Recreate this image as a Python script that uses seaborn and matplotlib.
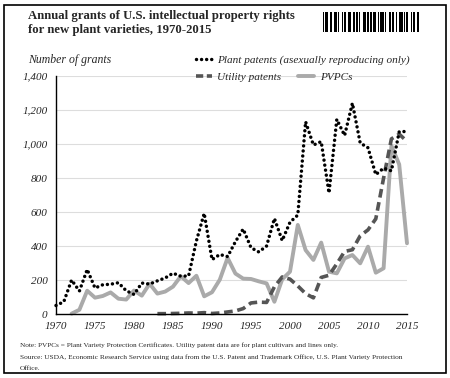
import numpy as np
import pandas as pd
import seaborn as sns
import matplotlib.pyplot as plt
from matplotlib.lines import Line2D
from matplotlib.patches import Rectangle

# data
years = list(range(1970, 2016))

plant_patents = [50, 72, 200, 135, 262, 153, 172, 175, 184, 137,
                 115, 182, 176, 195, 212, 240, 222, 224, 430, 592,
                 320, 350, 338, 425, 500, 390, 365, 400, 562, 432,
                 540, 582, 1131, 994, 1014, 712, 1145, 1050, 1240, 1006,
                 978, 820, 858, 842, 1072, 1074]

utility_patents = [np.nan] * 13 + [2, 2, 3, 4, 6, 5, 8,
                   3, 6, 12, 18, 32, 65, 70, 68, 160, 218,
                   205, 165, 120, 95, 215, 228, 295, 368, 378, 460,
                   495, 560, 800, 1030, 1058, 1015]

pvpcs = [np.nan, np.nan, 2, 25, 137, 96, 106, 127, 90, 85,
         138, 108, 178, 120, 132, 161, 222, 182, 225, 104,
         128, 202, 330, 238, 208, 206, 192, 180, 72, 204,
         249, 524, 376, 318, 420, 249, 239, 327, 347, 298,
         396, 243, 269, 990, 880, 416]

xticks = list(range(1970, 2016, 5))
yticks = list(range(0, 1401, 200))

df = pd.DataFrame({"year": years, "plant": plant_patents,
                   "utility": utility_patents, "pvpc": pvpcs})

sns.set_style("white")
plt.rcParams["font.family"] = ["Liberation Serif", "DejaVu Serif"]

fig = plt.figure(figsize=(4.5, 3.78), dpi=100)
ax = fig.add_axes([56 / 450, 1 - 314 / 378, (407 - 56) / 450, (314 - 76) / 378])

c_plant = "black"
c_util = "#555555"
c_pvpc = "#aaaaaa"

sns.lineplot(data=df, x="year", y="pvpc", ax=ax, color=c_pvpc, linewidth=2.8, clip_on=False)
sns.lineplot(data=df, x="year", y="utility", ax=ax, color=c_util, linewidth=2.6,
             linestyle=(0, (2.4, 1.3)), clip_on=False)
sns.lineplot(data=df, x="year", y="plant", ax=ax, color=c_plant, linewidth=2.5,
             linestyle=(0, (0.01, 1.45)), dash_capstyle="round", clip_on=False)

ax.set_xlim(1970, 2015)
ax.set_ylim(0, 1400)
ax.set_xticks(xticks)
ax.set_yticks(yticks)
ax.set_xticklabels([str(t) for t in xticks], style="italic", fontsize=8)
ax.set_yticklabels([f"{t:,}" for t in yticks], style="italic", fontsize=8)
ax.set_xlabel("")
ax.set_ylabel("")
ax.grid(axis="y", color="#dddddd", linewidth=0.8)
ax.set_axisbelow(True)
for s in ["top", "right"]:
    ax.spines[s].set_visible(False)
for s in ["left", "bottom"]:
    ax.spines[s].set_color("black")
    ax.spines[s].set_linewidth(1.0)
ax.tick_params(axis="both", direction="out", length=3, width=0.8, color="black", pad=3)

# title and labels
fig.text(28 / 450, 1 - 10 / 378, "Annual grants of U.S. intellectual property rights\nfor new plant varieties, 1970-2015",
         fontsize=9.2, fontweight="bold", va="top", ha="left", linespacing=1.2)
fig.text(28 / 450, 1 - 60 / 378, "Number of grants", fontsize=8.5, style="italic",
         va="center", ha="left")

# legend in two rows
h_plant = Line2D([], [], color=c_plant, linewidth=2.5, linestyle=(0, (0.01, 1.45)),
                 dash_capstyle="round")
h_util = Line2D([], [], color=c_util, linewidth=2.6, linestyle=(0, (2.0, 1.0)))
h_pvpc = Line2D([], [], color=c_pvpc, linewidth=2.8)
leg_kw = dict(frameon=False, handlelength=1.4, handletextpad=0.5, borderpad=0,
              borderaxespad=0, prop={"style": "italic", "size": 8.1})
leg1 = fig.legend([h_plant], ["Plant patents (asexually reproducing only)"],
                  loc="center left", bbox_to_anchor=(196 / 450, 1 - 60 / 378), **leg_kw)
leg2 = fig.legend([h_util, h_pvpc], ["Utility patents", "PVPCs"], ncol=2, columnspacing=1.5,
                  loc="center left", bbox_to_anchor=(196 / 450, 1 - 77 / 378), **leg_kw)

# barcode decoration
bar_ax = fig.add_axes([323 / 450, 1 - 32 / 378, 96 / 450, 20 / 378])
code = "1011001101110100101101110010110100111010110110010111010011011010011101011001011011"
bits = np.array([int(c) for c in code])
bar_ax.bar(np.arange(len(bits)), bits, width=1.0, color="black", linewidth=0)
bar_ax.set_xlim(-0.5, len(bits) - 0.5)
bar_ax.set_ylim(0, 1)
bar_ax.axis("off")

# notes
fig.text(20 / 450, 1 - 345 / 378,
         "Note: PVPCs = Plant Variety Protection Certificates. Utility patent data are for plant cultivars and lines only.",
         fontsize=5.2, va="center", ha="left")
fig.text(20 / 450, 1 - 357 / 378,
         "Source: USDA, Economic Research Service using data from the U.S. Patent and Trademark Office, U.S. Plant Variety Protection",
         fontsize=5.3, va="center", ha="left")
fig.text(20 / 450, 1 - 368 / 378, "Office.", fontsize=5.3, va="center", ha="left")

# outer frame
fig.patches.append(Rectangle((4 / 450, 5 / 378), 442 / 450, 368 / 378, transform=fig.transFigure,
                             fill=False, edgecolor="black", linewidth=1.2))

fig.savefig("out.png", dpi=100)
